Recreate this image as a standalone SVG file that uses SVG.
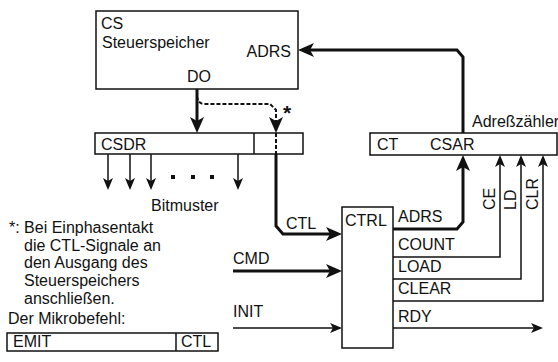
<svg xmlns="http://www.w3.org/2000/svg" width="558" height="362" viewBox="0 0 558 362">
<defs>
<style>
text{font-family:"Liberation Sans",Arial,sans-serif;font-size:16px;fill:#111}
.box{fill:#fff;stroke:#111;stroke-width:1.5}
.thin{fill:none;stroke:#111;stroke-width:1.5}
.thick{fill:none;stroke:#111;stroke-width:3}
.dash{fill:none;stroke:#111;stroke-width:2;stroke-dasharray:4 2}
</style>
<marker id="ah" markerUnits="userSpaceOnUse" viewBox="0 -6 13 12" refX="3" refY="0" markerWidth="13" markerHeight="12" orient="auto"><path d="M0,-5 L12,0 L0,5 L3,0 Z" fill="#111"/></marker>
<marker id="AH" markerUnits="userSpaceOnUse" viewBox="0 -8 17 16" refX="4" refY="0" markerWidth="17" markerHeight="16" orient="auto"><path d="M0,-7 L16,0 L0,7 L4,0 Z" fill="#111"/></marker>
</defs>
<rect width="558" height="362" fill="#fff"/>

<g id="connectors">
<path class="thick" d="M197,89 V121" marker-end="url(#AH)"/>
<path class="dash" d="M197,96 Q198,104 204,104 H270 L276,110 V121" marker-end="url(#AH)"/>
<path class="thick" d="M463,133 V57 L457,50 H310" marker-end="url(#AH)"/>
<path class="thick" d="M276,154 V226 L283,234 H330" marker-end="url(#AH)"/>
<path class="thick" d="M393,229 H457 L463,222 V167" marker-end="url(#AH)"/>
<path class="thick" d="M233,271 H330" marker-end="url(#AH)"/>
<path class="thin" d="M233,328 H333" marker-end="url(#ah)"/>
<path class="thin" d="M393,328 H534" marker-end="url(#ah)"/>
<path class="thin" d="M393,257 H500 V164" marker-end="url(#ah)"/>
<path class="thin" d="M393,279 H521 V164" marker-end="url(#ah)"/>
<path class="thin" d="M393,301 H543 V164" marker-end="url(#ah)"/>
<path class="thin" d="M108,154 V181" marker-end="url(#ah)"/>
<path class="thin" d="M130,154 V181" marker-end="url(#ah)"/>
<path class="thin" d="M151,154 V181" marker-end="url(#ah)"/>
<path class="thin" d="M238,154 V181" marker-end="url(#ah)"/>
</g>

<g id="cs">
<rect class="box" x="96" y="11" width="202" height="78"/>
<text x="101" y="29">CS</text>
<text x="102" y="48">Steuerspeicher</text>
<text x="291" y="57" text-anchor="end">ADRS</text>
<text x="199" y="82" text-anchor="middle">DO</text>
</g>

<g id="csdr">
<rect class="box" x="95" y="133" width="208" height="21"/>
<line class="thin" x1="254" y1="133" x2="254" y2="154"/>
<line class="dash" x1="276" y1="133" x2="276" y2="154"/>
<text x="101" y="150">CSDR</text>
</g>
<text x="283" y="120" style="font-weight:bold;font-size:21px">*</text>

<g id="bitmuster">
<rect x="171" y="175" width="4" height="4" fill="#111"/>
<rect x="191" y="175" width="4" height="4" fill="#111"/>
<rect x="210" y="175" width="4" height="4" fill="#111"/>
<text x="151" y="211">Bitmuster</text>
</g>

<g id="csar">
<rect class="box" x="370" y="133" width="187" height="22"/>
<text x="377" y="150">CT</text>
<text x="430" y="150">CSAR</text>
<text x="472" y="127">Adreßzähler</text>
</g>

<g id="ctrl">
<rect class="box" x="342" y="207" width="51" height="141"/>
<text x="345" y="226">CTRL</text>
<text x="398" y="222">ADRS</text>
<text x="398" y="250">COUNT</text>
<text x="398" y="272">LOAD</text>
<text x="398" y="294">CLEAR</text>
<text x="398" y="322">RDY</text>
</g>

<g id="labels">
<text x="286" y="229">CTL</text>
<text x="233" y="264">CMD</text>
<text x="233" y="317">INIT</text>
<text transform="translate(495,210) rotate(-90)">CE</text>
<text transform="translate(516,210) rotate(-90)">LD</text>
<text transform="translate(538,210) rotate(-90)">CLR</text>
</g>

<g id="note">
<text x="9" y="233">*: Bei Einphasentakt</text>
<text x="24" y="251">die CTL-Signale an</text>
<text x="24" y="268">den Ausgang des</text>
<text x="24" y="286">Steuerspeichers</text>
<text x="24" y="304">anschließen.</text>
<text x="8" y="324">Der Mikrobefehl:</text>
</g>

<g id="mikrobefehl">
<rect class="box" x="7" y="333" width="211" height="18"/>
<line class="thin" x1="176" y1="333" x2="176" y2="351"/>
<text x="13" y="347">EMIT</text>
<text x="181" y="347">CTL</text>
</g>
</svg>
